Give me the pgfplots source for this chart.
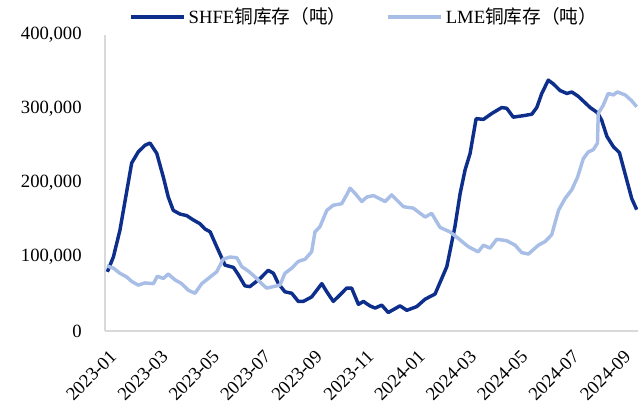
\documentclass[border=0pt]{standalone}
\usepackage{pgfplots}
\pgfplotsset{compat=1.18}
\usepackage{fontspec}
\setmainfont{Liberation Serif}
\newfontfamily\cjk{Noto Sans CJK SC}
\definecolor{shfe}{RGB}{14,46,140}
\definecolor{lme}{RGB}{168,190,230}
\definecolor{axgray}{RGB}{217,217,217}
\begin{document}
\begin{tikzpicture}
\begin{axis}[
  scale only axis,
  width=399.75pt, height=222pt,
  xmin=0, xmax=20.38,
  ymin=0, ymax=400000,
  axis x line*=bottom, axis y line*=left,
  axis line style={axgray, line width=1pt},
  x axis line style={-}, y axis line style={-},
  major tick length=0pt,
  xtick={0.07,2.04,4.00,5.97,7.93,9.90,11.86,13.83,15.79,17.76,19.73},
  xticklabels={2023-01,2023-03,2023-05,2023-07,2023-09,2023-11,2024-01,2024-03,2024-05,2024-07,2024-09},
  ytick={0,100000,200000,300000,400000},
  yticklabels={0,{100,000},{200,000},{300,000},{400,000}},
  scaled y ticks=false,
  font=\fontsize{14pt}{16pt}\selectfont,
  xticklabel style={rotate=45, anchor=east, xshift=-5pt, yshift=-15.3pt},
  yticklabel style={xshift=-14pt},
  /pgf/number format/assume math mode=true,
  legend style={draw=none, fill=none, at={(0.045,1.061)}, anchor=west,
    legend columns=2, column sep=0pt,
    /tikz/every even column/.append style={column sep=28pt},
    inner sep=0pt, font=\fontsize{14pt}{16pt}\selectfont},
  legend image code/.code={\draw[#1, line width=2.6pt] (0pt,0pt) -- (40pt,0pt);},
  legend cell align=left,
  clip=true,
]
\addplot[shfe, line width=2.6pt, line join=round] coordinates {
(0.09,80000)(0.32,100000)(0.57,136000)(1.02,227000)(1.27,242000)(1.53,251000)(1.72,254000)
(1.98,240000)(2.23,208000)(2.42,181000)(2.61,163000)(2.87,158000)(3.12,156000)(3.38,150000)
(3.63,145000)(3.82,138000)(4.02,134000)(4.27,114000)(4.59,89000)(4.91,86000)(5.10,76000)
(5.35,61000)(5.54,60000)(5.93,71000)(6.24,82000)(6.44,78000)(6.63,64000)(6.88,53000)
(7.14,51000)(7.39,40000)(7.58,40000)(7.90,46000)(8.29,64000)(8.48,53000)(8.73,40000)
(8.99,49000)(9.24,58000)(9.43,58000)(9.69,36000)(9.88,40000)(10.13,34000)(10.33,31000)
(10.58,35000)(10.83,25000)(11.28,34000)(11.54,28000)(11.92,33000)(12.24,43000)(12.62,50000)
(13.07,87000)(13.38,141000)(13.58,186000)(13.77,218000)(13.96,240000)(14.19,287000)
(14.47,286000)(14.79,294000)(15.17,302000)(15.36,301000)(15.61,289000)(16.00,291000)
(16.32,293000)(16.51,302000)(16.70,321000)(16.95,339000)(17.14,334000)(17.40,325000)
(17.66,321000)(17.85,323000)(18.10,317000)(18.55,302000)(18.83,295000)(18.99,285000)
(19.19,263000)(19.44,249000)(19.67,241000)(19.95,204000)(20.14,179000)(20.33,164000)
};
\addlegendentry{SHFE{\cjk 铜库存（吨）}}
\addplot[lme, line width=2.6pt, line join=round] coordinates {
(0.07,88000)(0.32,85000)(0.57,78000)(0.83,73000)(1.02,67000)(1.27,62000)(1.53,65000)
(1.85,64000)(2.00,74000)(2.23,71000)(2.42,77000)(2.68,69000)(2.93,64000)(3.19,55000)
(3.44,51000)(3.70,64000)(4.02,73000)(4.27,80000)(4.52,97000)(4.78,100000)(5.04,99000)
(5.23,87000)(5.48,81000)(5.74,73000)(5.99,64000)(6.18,58000)(6.44,60000)(6.69,62000)
(6.88,78000)(7.14,85000)(7.39,94000)(7.65,97000)(7.90,107000)(8.03,134000)(8.22,141000)
(8.48,163000)(8.73,170000)(9.05,172000)(9.24,184000)(9.37,193000)(9.56,186000)(9.82,175000)
(10.01,181000)(10.26,183000)(10.49,179000)(10.71,175000)(10.96,184000)(11.41,168000)
(11.79,166000)(12.24,154000)(12.49,159000)(12.81,140000)(13.19,134000)(13.51,125000)
(13.89,114000)(14.27,107000)(14.47,116000)(14.72,112000)(14.98,124000)(15.36,122000)
(15.68,116000)(15.93,106000)(16.19,104000)(16.57,116000)(16.83,121000)(17.08,130000)
(17.34,163000)(17.59,179000)(17.85,191000)(18.07,208000)(18.29,233000)(18.48,242000)
(18.67,245000)(18.83,254000)(18.86,294000)(19.05,305000)(19.24,321000)(19.44,319000)
(19.59,323000)(19.89,319000)(20.14,311000)(20.33,303000)
};
\addlegendentry{LME{\cjk 铜库存（吨）}}
\end{axis}
\pgfresetboundingbox
\path[use as bounding box] (-78.75pt,-55.5pt) rectangle (399.75pt,248.25pt);
\end{tikzpicture}
\end{document}
